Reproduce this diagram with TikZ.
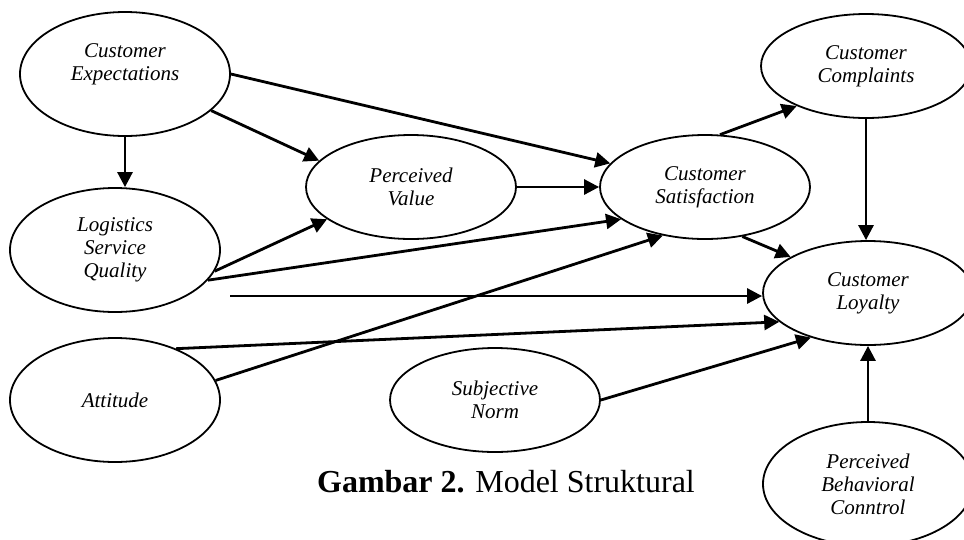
\documentclass[tikz,border=0pt]{standalone}
\usepackage{fontspec}
\setmainfont{Liberation Serif}
\usetikzlibrary{shapes.geometric,arrows.meta}

\begin{document}
\begin{tikzpicture}[x=1pt, y=-1pt,
  construct/.style={draw, ellipse, line width=1.8pt, minimum width=210pt, minimum height=104pt,
    inner sep=0pt, align=center, font=\fontsize{21}{23}\selectfont\itshape},
  tall/.style={minimum height=124pt},
  link/.style={line width=2.8pt, -{Triangle[length=15pt,width=15pt]}}]

  \useasboundingbox (0,0) rectangle (964,539);
  \clip (0,0) rectangle (964,539);

  \node[construct, tall] (ce) at (125,74) {Customer\\Expectations\\\mbox{}};
  \node[construct, tall] (lsq) at (115,250) {Logistics\\Service\\Quality};
  \node[construct, tall] (att) at (115,400) {Attitude};

  \node[construct] (pv) at (411,187) {Perceived\\Value};
  \node[construct] (sn) at (495,400) {Subjective\\Norm};
  \node[construct] (cs) at (705,187) {Customer\\Satisfaction};

  \node[construct] (cc) at (866,66) {Customer\\Complaints};
  \node[construct] (cl) at (868,293) {Customer\\Loyalty};
  \node[construct, tall] (pbc) at (868,484) {Perceived\\Behavioral\\Conntrol};

  \node[font=\fontsize{32}{36}\selectfont] (cap) at (506,482) {\textbf{Gambar 2.} Model Struktural};

  \coordinate (lsqout) at (230,296);

  \draw[link] (ce.south) -- (ce.south |- lsq.north);
  \draw[link] (ce.-23) -- (pv.164);
  \draw[link] (ce.east) -- (cs.166);
  \draw[link] (lsq.-12) -- (pv.201);
  \draw[link] (lsq.-18) -- (cs.201);
  \draw[link] (lsqout) -- (lsqout -| cl.west);
  \draw[link] (pv.east) -- (cs.west);
  \draw[link] (att.11) -- (cs.229);
  \draw[link] (att.40) -- (cl.198);
  \draw[link] (sn.east) -- (cl.218);
  \draw[link] (cs.-53) -- (cl.155);
  \draw[link] (cs.74) -- (cc.210);
  \draw[link] (cc.south) -- (cc.south |- cl.north);
  \draw[link] (pbc.north) -- (pbc.north |- cl.south);

\end{tikzpicture}
\end{document}
